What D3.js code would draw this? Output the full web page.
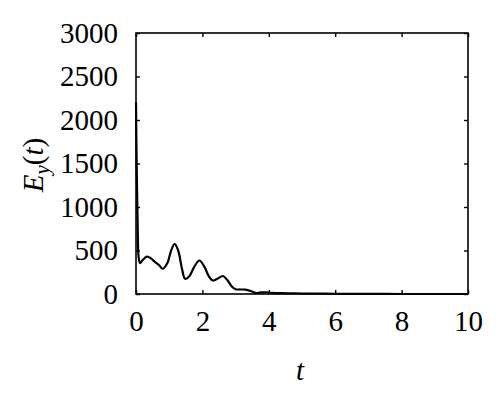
<!DOCTYPE html>
<html><head><meta charset="utf-8">
<script src="https://cdn.jsdelivr.net/npm/d3@7"></script>
<style>body{margin:0;background:#fff}svg{display:block}</style>
</head><body>
<script>
const tValues = [0, 0.02, 0.05, 0.08, 0.12, 0.2, 0.33, 0.45, 0.58, 0.7, 0.8, 0.95, 1.05, 1.16, 1.27, 1.38, 1.48, 1.6, 1.75, 1.91, 2.05, 2.2, 2.32, 2.45, 2.62, 2.75, 2.9, 3.0, 3.15, 3.3, 3.45, 3.6, 3.75, 3.9, 4.1, 4.4, 4.7, 5.0, 5.5, 6, 7, 8, 9, 10];
const eValues = [2200, 1500, 800, 420, 355, 390, 430, 410, 365, 330, 290, 360, 490, 575, 500, 300, 175, 200, 310, 385, 320, 200, 155, 175, 207, 160, 80, 55, 52, 50, 35, 12, 18, 20, 14, 10, 8, 6, 4, 2, 1, 0, 0, 0];
const xTicks = [0, 2, 4, 6, 8, 10];
const yTicks = [0, 500, 1000, 1500, 2000, 2500, 3000];

const W = 500, H = 407;
const m = {left: 136, right: 32, top: 33, bottom: 113};
const svg = d3.select("body").append("svg").attr("width", W).attr("height", H);
const x = d3.scaleLinear().domain([0, 10]).range([m.left, W - m.right]);
const y = d3.scaleLinear().domain([0, 3000]).range([H - m.bottom, m.top]);
const font = "'Liberation Serif', serif";
const fs = 29;

svg.append("rect").attr("x", x(0)).attr("y", y(3000))
  .attr("width", x(10) - x(0)).attr("height", y(0) - y(3000))
  .attr("fill", "none").attr("stroke", "#000").attr("stroke-width", 1.6);

const tl = 4;
const fmt = d3.format("d");
const xb = svg.append("g").attr("transform", `translate(0,${y(0)})`)
  .call(d3.axisBottom(x).tickValues(xTicks).tickFormat(fmt).tickSizeInner(-tl).tickSizeOuter(0).tickPadding(16));
const xt = svg.append("g").attr("transform", `translate(0,${y(3000)})`)
  .call(d3.axisTop(x).tickValues(xTicks).tickSizeInner(-tl).tickSizeOuter(0).tickFormat(""));
const yl = svg.append("g").attr("transform", `translate(${x(0)},0)`)
  .call(d3.axisLeft(y).tickValues(yTicks).tickFormat(fmt).tickSizeInner(-tl).tickSizeOuter(0).tickPadding(18));
const yr = svg.append("g").attr("transform", `translate(${x(10)},0)`)
  .call(d3.axisRight(y).tickValues(yTicks).tickSizeInner(-tl).tickSizeOuter(0).tickFormat(""));
[xb, xt, yl, yr].forEach(g => {
  g.select(".domain").remove();
  g.selectAll("line").attr("stroke", "#000").attr("stroke-width", 1.4);
  g.selectAll("text").attr("font-family", font).attr("font-size", fs).attr("fill", "#000");
});

const data = tValues.map((t, i) => [t, eValues[i]]);
svg.append("path").datum(data)
  .attr("fill", "none").attr("stroke", "#000").attr("stroke-width", 2.2)
  .attr("d", d3.line().x(d => x(d[0])).y(d => y(d[1])).curve(d3.curveCatmullRom.alpha(0.5)));

svg.append("text").attr("x", 300).attr("y", 380).attr("text-anchor", "middle")
  .attr("font-family", font).attr("font-size", fs).attr("font-style", "italic").text("t");

const lab = svg.append("text").attr("transform", "translate(43,165) rotate(-90)")
  .attr("text-anchor", "middle").attr("font-family", font).attr("font-size", fs);
lab.append("tspan").attr("font-style", "italic").text("E");
lab.append("tspan").attr("font-style", "italic").attr("font-size", 21).attr("dy", 6).text("y");
lab.append("tspan").attr("dy", -6).text("(");
lab.append("tspan").attr("font-style", "italic").text("t");
lab.append("tspan").text(")");
</script>
</body></html>
